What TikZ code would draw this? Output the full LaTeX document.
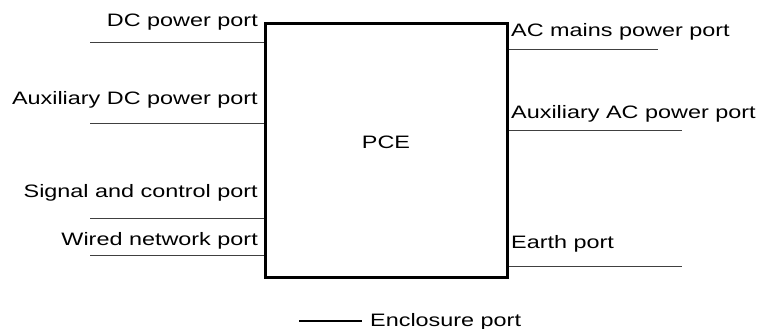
\documentclass[tikz,border=0pt]{standalone}
\usepackage{fontspec}
\setmainfont{Liberation Sans}[FakeStretch=1.3]

\begin{document}
\begin{tikzpicture}[x=1pt, y=-1pt, font=\fontsize{18}{21}\selectfont,
		portline/.style={line width=0.9pt, black!75},
		lbl/.style={inner sep=0pt}]
		\useasboundingbox (0,0) rectangle (761,329);
		\node[draw, line width=3pt, minimum width=242pt, minimum height=253pt, inner sep=0pt] (pce) at (386,150.5) {};
		\node[lbl, anchor=base] (pcetxt) at (386,148) {PCE};
		% ports on the left
		\coordinate (dc) at (90,42);
		\coordinate (auxdc) at (90,123);
		\coordinate (sig) at (90,218);
		\coordinate (net) at (90,255);
		\draw[portline] (dc) -- (pce.west |- dc);
		\draw[portline] (auxdc) -- (pce.west |- auxdc);
		\draw[portline] (sig) -- (pce.west |- sig);
		\draw[portline] (net) -- (pce.west |- net);
		\node[lbl, anchor=base east] (dctxt) at (258,27) {DC power port};
		\node[lbl, anchor=base east] (auxdctxt) at (258,104) {Auxiliary DC power port};
		\node[lbl, anchor=base east] (sigtxt) at (258,197) {Signal and control port};
		\node[lbl, anchor=base east] (nettxt) at (258,245) {Wired network port};
		% ports on the right
		\coordinate (ac) at (658,49);
		\coordinate (auxac) at (682,130);
		\coordinate (earth) at (682,266);
		\draw[portline] (pce.east |- ac) -- (ac);
		\draw[portline] (pce.east |- auxac) -- (auxac);
		\draw[portline] (pce.east |- earth) -- (earth);
		\node[lbl, anchor=base west] (actxt) at (511,37) {AC mains power port};
		\node[lbl, anchor=base west] (auxactxt) at (511,118) {Auxiliary AC power port};
		\node[lbl, anchor=base west] (earthtxt) at (511,248) {Earth port};
		% enclosure
		\node[lbl, anchor=base west] (enctxt) at (370,326) {Enclosure port};
		\coordinate (encl) at (299,320.5);
		\draw[line width=2pt] (encl) -- ([xshift=-8pt]encl -| enctxt.west);
	\end{tikzpicture}
\end{document}
